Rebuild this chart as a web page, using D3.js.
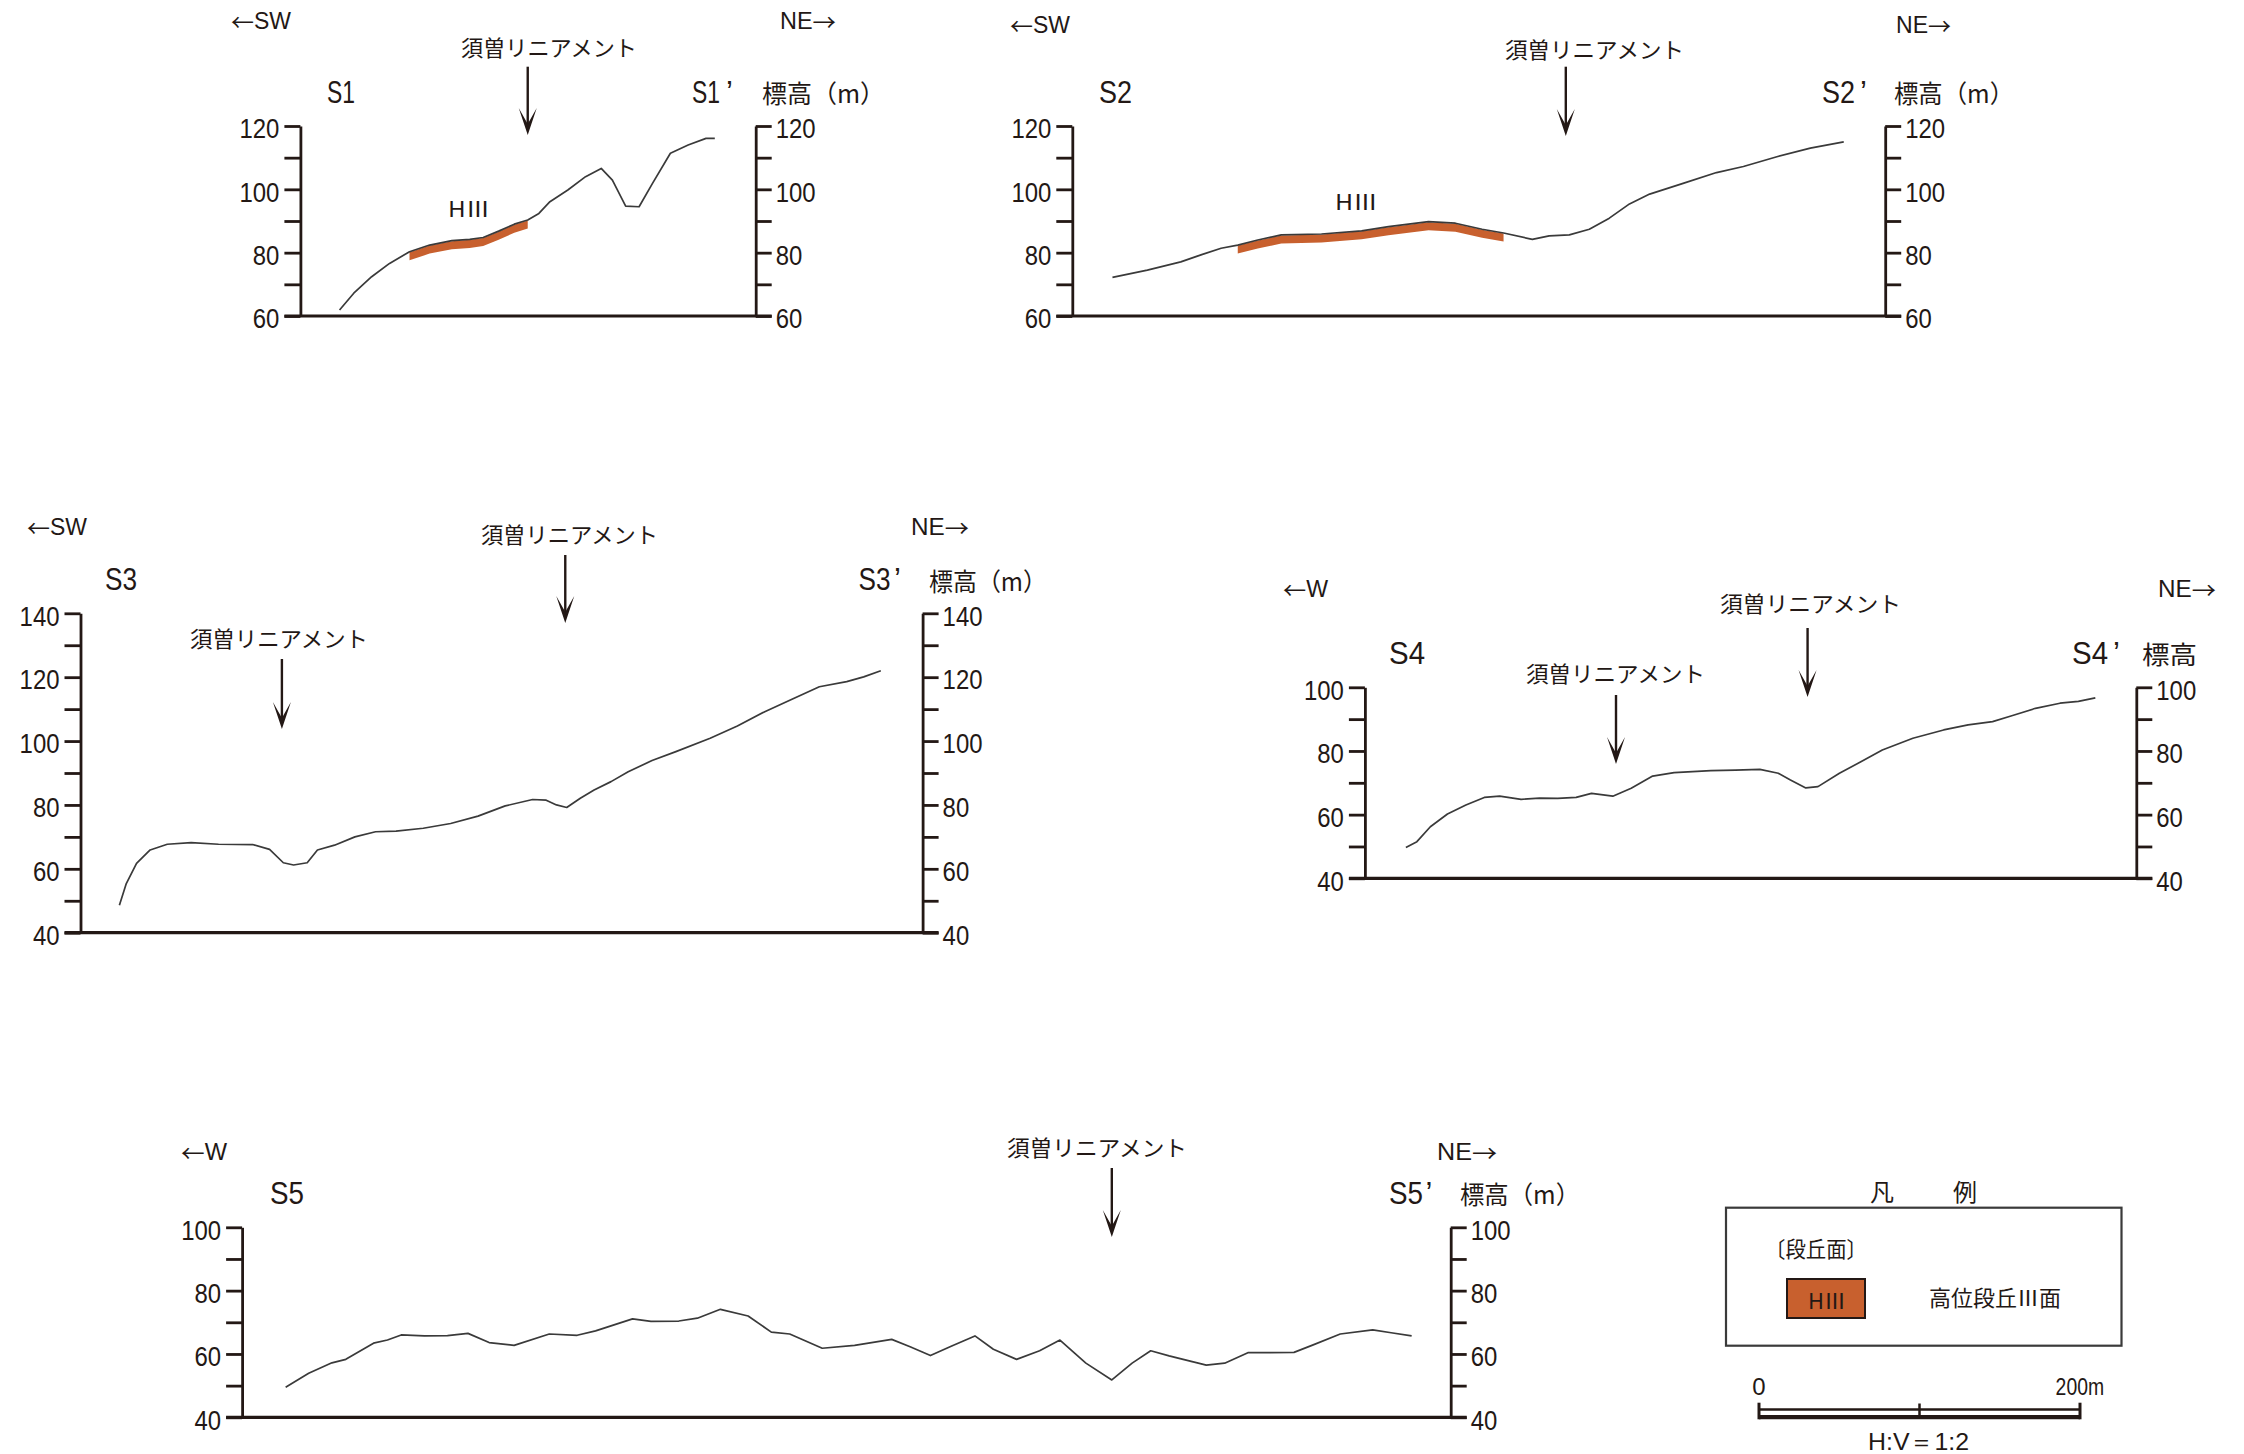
<!DOCTYPE html>
<html><head><meta charset="utf-8">
<script src="https://cdn.jsdelivr.net/npm/d3@7"></script>
<style>body{margin:0;background:#fff}svg{display:block}</style>
</head><body><div id="chart"></div>
<script>
// 地形断面図 S1〜S5（縦横比 H:V=1:2）
const s1Dist = [24.5,33.4,44.6,55.8,68.3,80.9,94.8,106.0,114.4,124.1,133.9,142.3,149.3,156.2,167.4,178.5,188.3,195.3,203.6,212.0,220.4,231.6,242.7,253.9,259.4];
const s1Elev = [61.9,67.2,72.4,76.6,80.3,82.4,83.8,84.2,84.8,86.8,89.0,90.3,92.4,96.1,99.8,104.0,106.6,102.9,94.7,94.5,101.9,111.4,114.0,116.1,116.1];
const s1Band = [68.3,142.3];
const s1Lineament = [142.3];
const s1Len = 285;

const s2Dist = [25.1,46.9,67.8,80.4,93.0,103.4,115.9,130.6,155.7,180.8,197.6,222.6,239.4,256.1,269.5,287.5,298.0,310.6,323.1,335.6,348.2,360.8,381.7,402.6,419.4,440.3,461.2,482.1];
const s2Elev = [72.2,74.5,77.1,79.3,81.4,82.4,84.0,85.6,85.9,86.9,88.2,89.8,89.3,87.4,86.2,84.2,85.3,85.6,87.4,90.9,95.4,98.5,101.9,105.3,107.2,110.3,113.0,115.0];
const s2Band = [103.4,269.5];
const s2Lineament = [308.4];
const s2Len = 508;

const s3Dist = [24.3,28.6,35.0,43.5,54.2,69.1,86.2,107.5,118.1,126.7,133.1,141.6,148.0,158.7,171.4,184.3,197.1,214.1,231.2,248.3,265.3,282.4,290.9,297.3,303.7,312.2,320.8,331.4,342.1,357.0,371.9,393.3,410.3,427.4,444.4,461.5,478.6,489.2,499.9];
const s3Elev = [48.6,55.4,61.7,65.9,67.7,68.2,67.7,67.6,66.1,61.9,61.2,61.9,65.9,67.4,70.0,71.6,71.8,72.7,74.2,76.5,79.7,81.7,81.5,80.0,79.2,82.1,84.7,87.3,90.4,93.9,96.7,100.9,104.7,109.2,113.1,117.0,118.6,120.1,122.0];
const s3Lineament = [302.8,125.8];
const s3Len = 526;

const s4Dist = [25.6,32.5,40.9,51.6,63.1,74.6,84.2,97.6,109.1,120.5,132.0,141.6,154.9,166.4,179.8,193.2,216.2,231.5,246.8,258.3,265.9,275.5,283.1,296.5,309.9,323.3,342.4,361.6,376.9,392.2,403.7,419.0,434.3,445.8,456.4];
const s4Elev = [49.7,51.5,56.2,60.2,63.0,65.4,65.8,64.8,65.2,65.1,65.4,66.7,65.8,68.3,72.1,73.2,73.8,74.0,74.2,73.0,70.9,68.4,68.8,73.0,76.6,80.3,84.0,86.6,88.2,89.2,91.0,93.4,95.0,95.6,96.7];
const s4Lineament = [276.6,156.9];
const s4Len = 482;

const s5Dist = [27.2,41.6,56.1,64.8,82.1,90.8,99.4,113.9,128.3,141.1,154.3,169.9,191.9,209.3,220.8,243.9,255.4,272.8,284.4,298.8,316.1,330.6,342.1,362.4,382.6,405.8,417.3,430.0,443.3,457.8,469.3,483.8,498.2,510.9,527.1,543.3,556.0,567.6,579.1,602.3,613.8,628.3,657.1,668.7,686.0,706.3,717.8,730.6];
const s5Elev = [49.5,53.9,57.2,58.3,63.4,64.4,66.0,65.7,65.8,66.5,63.6,62.7,66.3,65.9,67.3,71.1,70.3,70.4,71.3,74.1,72.0,66.9,66.3,61.8,62.7,64.6,62.3,59.5,62.5,65.7,61.5,58.3,61.0,64.4,57.1,51.8,57.1,61.0,59.4,56.5,57.1,60.4,60.5,62.8,66.3,67.6,66.7,65.7];
const s5Lineament = [543.3];
const s5Len = 755;

const ticks60 = [60,70,80,90,100,110,120], labels60 = [60,80,100,120];
const ticks40a = [40,50,60,70,80,90,100,110,120,130,140], labels40a = [40,60,80,100,120,140];
const ticks40 = [40,50,60,70,80,90,100], labels40 = [40,60,80,100];
const scaleTicks = [0,100,200];

const NARROW = "'Liberation Sans Narrow','Liberation Sans',Arial,sans-serif";
const JP = "'Noto Sans CJK JP','Noto Sans CJK SC',sans-serif";
const INK = "#231815", ORANGE = "#c8602e";

const svg = d3.select("#chart").append("svg").attr("width",2244).attr("height",1454);
svg.append("rect").attr("width",2244).attr("height",1454).attr("fill","#fff");

// テキスト: x=左端, w=幅(textLength)
function txt(s, x, y, w, fam, size, anchor){
  const t = svg.append("text").attr("x",x).attr("y",y).attr("font-family",fam==="jp"?JP:NARROW)
    .attr("font-size",size).attr("fill",INK).attr("dominant-baseline","central").text(s);
  if(w) t.attr("textLength",w).attr("lengthAdjust","spacingAndGlyphs");
  if(anchor) t.attr("text-anchor",anchor);
  return t;
}
// 方位ラベル: 矢印は全角(JP)、文字はサンセリフ
function dir(s, x, y, w){
  const t = svg.append("text").attr("x",x).attr("y",y).attr("font-size",23).attr("fill",INK)
    .attr("dominant-baseline","central").attr("textLength",w).attr("lengthAdjust","spacingAndGlyphs");
  [...s].forEach(c=>t.append("tspan").attr("font-family",/[←→]/.test(c)?JP:NARROW).text(c));
}
// 断面端点名 (S1, S1’)
function endName(s, x, y, w, primeX){
  txt(s,x,y,w,"l",31);
  if(primeX) txt("’",primeX,y,null,"l",31);
}

function arrow(x, y0, y1){
  svg.append("line").attr("x1",x).attr("x2",x).attr("y1",y0).attr("y2",y1-8).attr("stroke",INK).attr("stroke-width",2.4);
  svg.append("path").attr("d",`M${x-9},${y1-27}L${x},${y1}L${x+9},${y1-27}L${x},${y1-11}Z`).attr("fill",INK);
}

const panels = [
  {name:"S1", dist:s1Dist, elev:s1Elev, len:s1Len, band:s1Band, arr:s1Lineament, ticks:ticks60, labels:labels60, dom:[60,120],
   L:300.4, R:755.7, yTop:126, yBot:316, arrY:[[66.7,135]],
   dirs:[["←SW",231,21,60],["NE→",780,21,56]],
   ends:[327,692,28,726], nameY:92,
   texts:[["須曽リニアメント",461,46,176,"jp",22],["標高（m）",762,92,123,"jp",25],["HⅢ",448,207,42,"jp",22]]},
  {name:"S2", dist:s2Dist, elev:s2Elev, len:s2Len, band:s2Band, arr:s2Lineament, ticks:ticks60, labels:labels60, dom:[60,120],
   L:1072.3, R:1885.2, yTop:126, yBot:316, arrY:[[66.7,136]],
   dirs:[["←SW",1010,25,60],["NE→",1896,25,55]],
   ends:[1099,1822,33,1860], nameY:92,
   texts:[["須曽リニアメント",1505,48,179,"jp",22],["標高（m）",1894,92,120,"jp",25],["HⅢ",1335,200,43,"jp",22]]},
  {name:"S3", dist:s3Dist, elev:s3Elev, len:s3Len, band:null, arr:s3Lineament, ticks:ticks40a, labels:labels40a, dom:[40,140],
   L:80.5, R:922.6, yTop:613.3, yBot:932.7, arrY:[[555,623],[659,729]],
   dirs:[["←SW",27,527,60],["NE→",911,527,58]],
   ends:[105,858.5,32,894], nameY:579,
   texts:[["須曽リニアメント",481,533,177,"jp",22],["須曽リニアメント",190,637,178,"jp",22],["標高（m）",929,580,118,"jp",25]]},
  {name:"S4", dist:s4Dist, elev:s4Elev, len:s4Len, band:null, arr:s4Lineament, ticks:ticks40, labels:labels40, dom:[40,100],
   L:1364.9, R:2136.3, yTop:687.3, yBot:878.3, arrY:[[628,697],[695,764]],
   dirs:[["←W",1283,589,45],["NE→",2158,589,58]],
   ends:[1389,2072,36,2113], nameY:653,
   texts:[["須曽リニアメント",1720,602,181,"jp",22],["須曽リニアメント",1526,672,179,"jp",22],["標高",2142,653,55,"jp",25]]},
  {name:"S5", dist:s5Dist, elev:s5Elev, len:s5Len, band:null, arr:s5Lineament, ticks:ticks40, labels:labels40, dom:[40,100],
   L:242.1, R:1450.7, yTop:1227.3, yBot:1417.3, arrY:[[1168,1237]],
   dirs:[["←W",181,1152,46],["NE→",1437,1152,60]],
   ends:[270,1389,34,1425.5], nameY:1193,
   texts:[["須曽リニアメント",1007,1146,180,"jp",22],["標高（m）",1460,1193,120,"jp",25]]}
];

panels.forEach(p=>{
  const x = d3.scaleLinear().domain([0,p.len]).range([p.L,p.R]);
  const y = d3.scaleLinear().domain(p.dom).range([p.yBot,p.yTop]);
  const pts = d3.zip(p.dist,p.elev);
  const thick = (p.dom[1]-p.dom[0])*0.045;

  // 段丘面(HⅢ)
  if(p.band){
    const seg = pts.filter(d=>d[0]>=p.band[0]&&d[0]<=p.band[1]);
    svg.append("path").datum(seg)
      .attr("d",d3.area().x(d=>x(d[0])).y0(d=>y(d[1]-thick)).y1(d=>y(d[1])+0.5))
      .attr("fill",ORANGE);
  }
  svg.append("path").datum(pts)
    .attr("d",d3.line().x(d=>x(d[0])).y(d=>y(d[1])))
    .attr("fill","none").attr("stroke","#3a3a3a").attr("stroke-width",1.7).attr("stroke-linejoin","round");

  const fmt = d=>p.labels.includes(d)?d:"";
  const gl = svg.append("g").attr("transform",`translate(${p.L},0)`)
    .call(d3.axisLeft(y).tickValues(p.ticks).tickSize(16).tickSizeOuter(0).tickPadding(5).tickFormat(fmt));
  const gr = svg.append("g").attr("transform",`translate(${p.R},0)`)
    .call(d3.axisRight(y).tickValues(p.ticks).tickSize(16).tickSizeOuter(0).tickPadding(4).tickFormat(fmt));
  [gl,gr].forEach(g=>{
    g.attr("font-family",NARROW).attr("font-size",28);
    g.select(".domain").attr("stroke",INK).attr("stroke-width",2.8);
    g.selectAll(".tick line").attr("stroke",INK).attr("stroke-width",2.8);
    g.selectAll(".tick text").attr("fill",INK).attr("dy","0.42em")
      .attr("textLength",d=>fmt(d)===""?null:String(d).length*13.3).attr("lengthAdjust","spacingAndGlyphs");
  });
  svg.append("line").attr("x1",p.L-16).attr("x2",p.R+16).attr("y1",y(p.dom[0])).attr("y2",y(p.dom[0]))
    .attr("stroke",INK).attr("stroke-width",3.2);

  p.arr.forEach((d,i)=>arrow(x(d),p.arrY[i][0],p.arrY[i][1]));
  p.dirs.forEach(t=>dir(t[0],t[1],t[2],t[3]));
  endName(p.name,p.ends[0],p.nameY,p.ends[2],null);
  endName(p.name,p.ends[1],p.nameY,p.ends[2],p.ends[3]);
  p.texts.forEach(t=>txt(t[0],t[1],t[2],t[3],t[4],t[5]));
});

// 凡例
txt("凡",1870,1190,null,"jp",24);
txt("例",1953,1190,null,"jp",24);
svg.append("rect").attr("x",1726).attr("y",1207.7).attr("width",395.5).attr("height",138)
  .attr("fill","none").attr("stroke","#3a3a3a").attr("stroke-width",2.2);
txt("〔段丘面〕",1765,1247,102,"jp",22);
svg.append("rect").attr("x",1787).attr("y",1279).attr("width",78).attr("height",39)
  .attr("fill",ORANGE).attr("stroke",INK).attr("stroke-width",2);
txt("HⅢ",1808,1298.5,38,"jp",22);
txt("高位段丘Ⅲ面",1929,1296,132,"jp",22);

// スケールバー
const sx = d3.scaleLinear().domain([0,200]).range([1759,2080]);
svg.append("line").attr("x1",sx(0)).attr("x2",sx(200)).attr("y1",1409.5).attr("y2",1409.5).attr("stroke",INK).attr("stroke-width",2.3);
svg.append("line").attr("x1",sx(0)).attr("x2",sx(200)).attr("y1",1417.2).attr("y2",1417.2).attr("stroke",INK).attr("stroke-width",4.3);
scaleTicks.forEach(t=>{
  const mid = t!==0&&t!==200;
  svg.append("line").attr("x1",sx(t)).attr("x2",sx(t)).attr("y1",mid?1403.5:1402.7).attr("y2",mid?1415:1419.3)
    .attr("stroke",INK).attr("stroke-width",mid?2.5:3);
});
txt("0",sx(0),1386.7,null,"l",24,"middle");
txt("200m",2055.6,1386.7,48.5,"l",24);
txt("H:V＝1:2",1868,1441.7,101,"l",24);
</script></body></html>
